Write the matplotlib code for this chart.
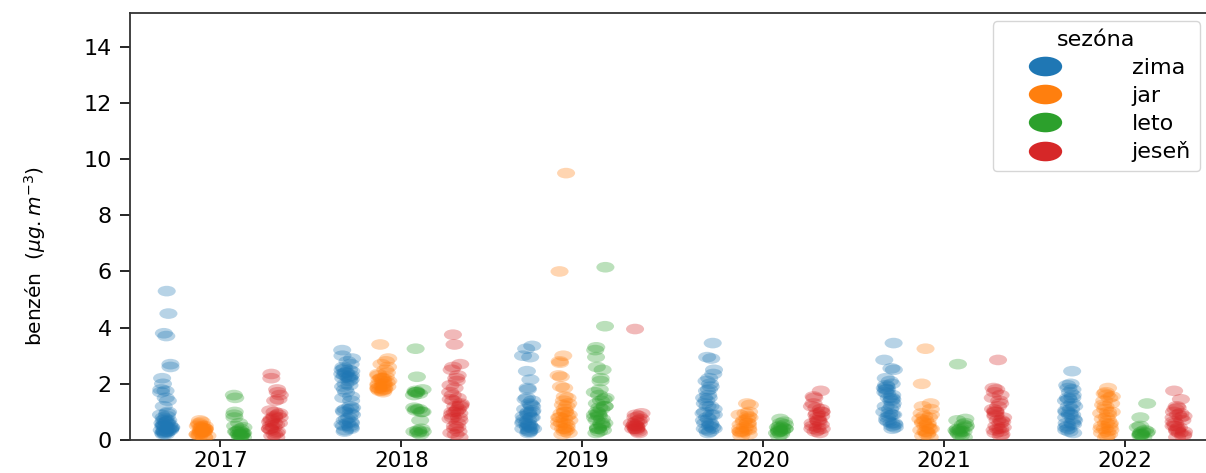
import numpy as np
import pandas as pd
import matplotlib
matplotlib.use("Agg")
import matplotlib.pyplot as plt
from matplotlib.path import Path
from matplotlib.transforms import Affine2D
from matplotlib.lines import Line2D
import seaborn as sns

years = ["2017", "2018", "2019", "2020", "2021", "2022"]
seasons = ["zima", "jar", "leto", "jeseň"]
colors = ["#1f77b4", "#ff7f0e", "#2ca02c", "#d62728"]

# benzene concentrations per season, one list per year (2017..2022)
zima = [
    [5.3, 4.5, 3.8, 3.7, 2.7, 2.6, 2.2, 2.0, 1.8, 1.75, 1.7, 1.5, 1.4, 1.2, 1.0, 0.95, 0.9, 0.85, 0.8, 0.75,
     0.7, 0.7, 0.65, 0.6, 0.6, 0.55, 0.5, 0.5, 0.5, 0.45, 0.45, 0.4, 0.4, 0.4, 0.35, 0.35, 0.3, 0.3, 0.3,
     0.25, 0.25, 0.2, 0.2, 0.55, 0.45, 0.35, 0.65, 0.3],
    [3.2, 3.0, 2.9, 2.8, 2.7, 2.6, 2.55, 2.5, 2.45, 2.4, 2.35, 2.3, 2.3, 2.25, 2.2, 2.2, 2.15, 2.1, 2.0, 1.95,
     1.9, 1.8, 1.7, 1.55, 1.5, 1.4, 1.2, 1.15, 1.1, 1.05, 1.0, 0.95, 0.9, 0.8, 0.75, 0.7, 0.65, 0.6, 0.55,
     0.5, 0.45, 0.4, 0.35, 0.3, 2.4, 2.25, 2.5, 1.1, 0.6, 0.5],
    [3.35, 3.25, 3.0, 2.95, 2.45, 2.15, 1.85, 1.8, 1.5, 1.45, 1.4, 1.3, 1.25, 1.2, 1.1, 1.05, 1.0, 0.95, 0.9,
     0.85, 0.8, 0.75, 0.7, 0.65, 0.6, 0.55, 0.5, 0.5, 0.45, 0.4, 0.4, 0.35, 0.3, 0.3, 0.25, 1.0, 0.8, 0.6,
     0.45],
    [3.45, 2.95, 2.9, 2.5, 2.35, 2.2, 2.1, 2.0, 1.9, 1.8, 1.75, 1.6, 1.5, 1.4, 1.3, 1.2, 1.1, 1.0, 0.95, 0.9,
     0.8, 0.75, 0.7, 0.6, 0.55, 0.5, 0.45, 0.4, 0.35, 0.3, 0.25, 1.5, 1.2, 0.9, 0.6, 0.4],
    [3.45, 2.85, 2.55, 2.5, 2.2, 2.1, 2.0, 1.95, 1.9, 1.85, 1.8, 1.7, 1.65, 1.6, 1.5, 1.45, 1.4, 1.3, 1.2,
     1.1, 1.0, 0.95, 0.9, 0.85, 0.8, 0.7, 0.65, 0.6, 0.55, 0.5, 0.45, 0.4, 1.8, 1.5, 1.2, 0.9, 0.6],
    [2.45, 2.0, 1.95, 1.85, 1.8, 1.7, 1.6, 1.5, 1.45, 1.4, 1.3, 1.2, 1.1, 1.05, 1.0, 0.95, 0.9, 0.8, 0.75,
     0.7, 0.6, 0.55, 0.5, 0.45, 0.4, 0.35, 0.3, 0.25, 1.5, 1.2, 0.9, 0.6],
]
jar = [
    [0.7, 0.65, 0.6, 0.55, 0.5, 0.5, 0.45, 0.45, 0.4, 0.4, 0.4, 0.35, 0.35, 0.3, 0.3, 0.3, 0.25, 0.25, 0.2,
     0.2, 0.15, 0.15, 0.1, 0.1, 0.5, 0.4, 0.3, 0.2],
    [3.4, 2.9, 2.8, 2.7, 2.6, 2.5, 2.4, 2.35, 2.3, 2.25, 2.2, 2.2, 2.15, 2.1, 2.1, 2.05, 2.0, 2.0, 1.95, 1.9,
     1.9, 1.85, 1.85, 1.8, 1.8, 1.75, 1.75, 1.7, 2.0, 1.9, 2.2, 1.8],
    [9.5, 6.0, 3.0, 2.8, 2.75, 2.3, 2.25, 1.9, 1.85, 1.55, 1.5, 1.4, 1.3, 1.25, 1.2, 1.1, 1.0, 0.95, 0.9,
     0.85, 0.8, 0.75, 0.7, 0.65, 0.6, 0.55, 0.5, 0.45, 0.4, 0.35, 0.3, 0.25, 0.2, 1.0, 0.8, 0.6, 0.4],
    [1.3, 1.25, 1.0, 0.95, 0.9, 0.85, 0.8, 0.75, 0.7, 0.65, 0.6, 0.55, 0.5, 0.45, 0.4, 0.35, 0.3, 0.3, 0.25,
     0.2, 0.15, 0.6, 0.4, 0.3],
    [3.25, 2.0, 1.3, 1.2, 1.1, 0.95, 0.9, 0.85, 0.8, 0.75, 0.7, 0.65, 0.6, 0.55, 0.5, 0.45, 0.4, 0.35, 0.3,
     0.25, 0.2, 0.15, 0.1, 0.6, 0.4, 0.3],
    [1.85, 1.7, 1.65, 1.6, 1.55, 1.5, 1.4, 1.3, 1.25, 1.2, 1.1, 1.0, 0.95, 0.9, 0.8, 0.75, 0.7, 0.6, 0.55,
     0.5, 0.45, 0.4, 0.35, 0.3, 0.25, 0.2, 0.15, 0.1, 1.0, 0.6, 0.4],
]
leto = [
    [1.6, 1.5, 1.0, 0.9, 0.8, 0.6, 0.5, 0.45, 0.4, 0.35, 0.3, 0.3, 0.25, 0.25, 0.2, 0.2, 0.2, 0.15, 0.15,
     0.1, 0.1, 0.3, 0.2],
    [3.25, 2.25, 1.8, 1.75, 1.7, 1.7, 1.65, 1.6, 1.15, 1.1, 1.05, 1.0, 1.0, 0.7, 0.4, 0.35, 0.3, 0.3, 0.25,
     0.2, 1.7, 1.1, 0.3],
    [6.15, 4.05, 3.3, 3.2, 2.95, 2.6, 2.5, 2.2, 2.1, 1.8, 1.7, 1.6, 1.5, 1.45, 1.4, 1.3, 1.2, 1.15, 1.1, 1.0,
     0.95, 0.9, 0.85, 0.8, 0.75, 0.7, 0.6, 0.55, 0.5, 0.45, 0.4, 0.35, 0.3, 0.25, 1.2, 0.9, 0.6, 0.4],
    [0.75, 0.65, 0.6, 0.55, 0.5, 0.45, 0.45, 0.4, 0.4, 0.35, 0.35, 0.3, 0.3, 0.25, 0.2, 0.15, 0.4, 0.3],
    [2.7, 0.75, 0.7, 0.6, 0.55, 0.5, 0.45, 0.4, 0.4, 0.35, 0.35, 0.3, 0.3, 0.25, 0.2, 0.15, 0.1, 0.3],
    [1.3, 0.8, 0.5, 0.45, 0.35, 0.3, 0.3, 0.25, 0.25, 0.2, 0.2, 0.15, 0.1, 0.2],
]
jesen = [
    [2.35, 2.2, 1.8, 1.7, 1.6, 1.45, 1.4, 1.05, 1.0, 0.95, 0.9, 0.85, 0.8, 0.75, 0.7, 0.65, 0.6, 0.55, 0.5,
     0.45, 0.4, 0.35, 0.3, 0.25, 0.2, 0.15, 0.1, 0.8, 0.6, 0.4],
    [3.75, 3.4, 2.7, 2.6, 2.5, 2.3, 2.2, 2.1, 1.95, 1.85, 1.7, 1.6, 1.5, 1.45, 1.4, 1.3, 1.25, 1.2, 1.1,
     1.05, 1.0, 0.95, 0.9, 0.8, 0.75, 0.7, 0.6, 0.5, 0.45, 0.4, 0.3, 0.25, 0.2, 0.1, 1.2, 1.0, 0.8],
    [3.95, 0.95, 0.9, 0.85, 0.8, 0.75, 0.7, 0.65, 0.6, 0.55, 0.5, 0.5, 0.45, 0.4, 0.4, 0.35, 0.3, 0.25, 0.6,
     0.5, 0.4],
    [1.75, 1.55, 1.5, 1.3, 1.2, 1.15, 1.1, 1.0, 0.95, 0.9, 0.85, 0.8, 0.7, 0.65, 0.6, 0.55, 0.5, 0.45, 0.4,
     0.35, 0.3, 0.25, 1.0, 0.7, 0.4],
    [2.85, 1.85, 1.8, 1.7, 1.6, 1.5, 1.4, 1.3, 1.2, 1.1, 1.05, 1.0, 0.9, 0.85, 0.8, 0.7, 0.65, 0.6, 0.5,
     0.45, 0.4, 0.35, 0.3, 0.25, 0.2, 0.15, 1.0, 0.7, 0.4],
    [1.75, 1.45, 1.2, 1.15, 1.1, 1.0, 0.95, 0.9, 0.85, 0.8, 0.7, 0.65, 0.6, 0.5, 0.45, 0.4, 0.35, 0.3, 0.25,
     0.2, 0.15, 0.1, 0.8, 0.5, 0.3],
]

rows = []
for season, per_year in zip(seasons, [zima, jar, leto, jesen]):
    for year, vals in zip(years, per_year):
        for v in vals:
            rows.append((year, season, v))
df = pd.DataFrame(rows, columns=["rok", "sezóna", "benzen"])

# wide elliptical marker
ellipse = Path.unit_circle().transformed(Affine2D().scale(1.7, 1.0))

fig = plt.figure(figsize=(12.06, 4.73), dpi=100)
ax = fig.add_axes([130 / 1206, 33 / 473, 1085 / 1206, 427 / 473])

np.random.seed(3)
sns.stripplot(data=df, x="rok", y="benzen", hue="sezóna", order=years, hue_order=seasons,
              palette=colors, dodge=True, jitter=0.12, alpha=0.32, size=13, marker=ellipse,
              linewidth=0, legend=False, ax=ax)

ax.set_xlim(-0.5, 5.5)
ax.set_ylim(0, 15.2)
ax.set_yticks(range(0, 15, 2))
ax.set_xlabel("")
ax.set_ylabel(r"benzén  ($\mu g.m^{-3}$)", fontsize=14.5)
ax.yaxis.set_label_coords(-0.076, 0.43)
ax.tick_params(axis="x", labelsize=15.5, length=5, width=1.2, pad=3)
ax.tick_params(axis="y", labelsize=16, length=7, width=1.2, pad=6)
for sp in ax.spines.values():
    sp.set_linewidth(1.3)
    sp.set_color("#333333")

handles = [Line2D([], [], linestyle="none", marker=ellipse, markersize=24,
                  markerfacecolor=c, markeredgewidth=0) for c in colors]
leg = ax.legend(handles, seasons, title="sezóna", loc="upper right",
                bbox_to_anchor=(0.995, 0.955), bbox_transform=fig.transFigure,
                borderaxespad=0, fontsize=16, title_fontsize=16, handlelength=3.9,
                handletextpad=1.95, labelspacing=0.35, borderpad=0.4, frameon=True)
leg.get_frame().set_edgecolor("#cccccc")

fig.savefig("out.png", dpi=100)
